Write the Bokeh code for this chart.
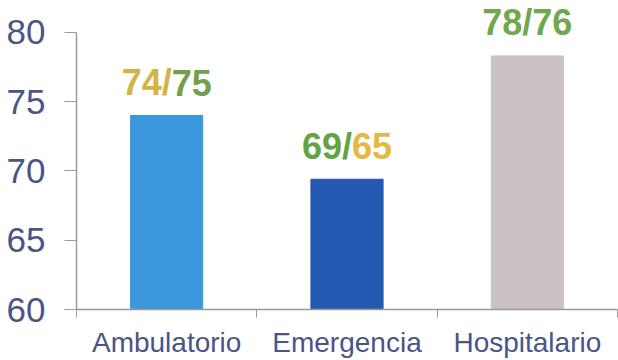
from bokeh.plotting import figure
from bokeh.models import ColumnDataSource, Range1d, FixedTicker, Label
from bokeh.embed import file_html
from bokeh.resources import INLINE

# ---- data ----
categorias = ["Ambulatorio", "Emergencia", "Hospitalario"]
valores = [74.0, 69.4, 78.3]
colores_barra = ["#3b98dc", "#2558b0", "#c9c1c6"]
etiqueta_a = ["74/", "69/", "78/76"]
etiqueta_b = ["75", "65", ""]
color_a = ["#d2b446", "#63a345", "#6fa84e"]
color_b = ["#72a050", "#e2b943", "#6fa84e"]
y_ticks = [60, 65, 70, 75, 80]

xs = [i + 0.5 for i in range(len(categorias))]
src = ColumnDataSource(dict(x=xs, top=valores, color=colores_barra))

p = figure(width=618, height=360, output_backend="svg", toolbar_location=None,
           x_range=Range1d(0, len(categorias)), y_range=Range1d(60, 82.3),
           min_border_left=76, min_border_right=1, min_border_top=0, min_border_bottom=40)
p.outline_line_color = None
p.background_fill_color = "white"
p.border_fill_color = "white"
p.grid.grid_line_color = None

p.vbar(x="x", top="top", bottom=60, width=0.4, color="color", source=src)

TXT = "#4b5585"
FONT = "Liberation Sans"

# y axis
ya = p.yaxis[0]
ya.ticker = FixedTicker(ticks=y_ticks)
ya.bounds = (min(y_ticks), max(y_ticks))
ya.major_label_text_font = FONT
ya.major_label_text_font_size = "35px"
ya.major_label_text_color = TXT
ya.axis_line_color = "#9a9a9a"
ya.axis_line_width = 1.5
ya.major_tick_line_color = "#9a9a9a"
ya.major_tick_in = 0
ya.major_tick_out = 12
ya.minor_tick_line_color = None
ya.major_label_standoff = 19

# x axis
xa = p.xaxis[0]
xa.ticker = FixedTicker(ticks=xs, minor_ticks=list(range(len(categorias) + 1)))
xa.major_label_overrides = {x: c for x, c in zip(xs, categorias)}
xa.major_label_text_font = FONT
xa.major_label_text_font_size = "28px"
xa.major_label_text_color = TXT
xa.axis_line_color = "#9a9a9a"
xa.axis_line_width = 1.5
xa.major_tick_line_color = None
xa.major_tick_in = 0
xa.major_tick_out = 0
xa.minor_tick_line_color = "#9a9a9a"
xa.minor_tick_in = 0
xa.minor_tick_out = 8
xa.major_label_standoff = 9

# value labels (two-coloured)
FS = 36
OFF = 33
for x, v, a, b, ca, cb in zip(xs, valores, etiqueta_a, etiqueta_b, color_a, color_b):
    if b:
        split = 0.139 * FS
        p.add_layout(Label(x=x, y=v, x_offset=split, y_offset=OFF, text=a,
                           text_align="right", text_baseline="alphabetic",
                           text_font=FONT, text_font_size=f"{FS}px",
                           text_font_style="bold", text_color=ca))
        p.add_layout(Label(x=x, y=v, x_offset=split, y_offset=OFF, text=b,
                           text_align="left", text_baseline="alphabetic",
                           text_font=FONT, text_font_size=f"{FS}px",
                           text_font_style="bold", text_color=cb))
    else:
        p.add_layout(Label(x=x, y=v, y_offset=OFF, text=a,
                           text_align="center", text_baseline="alphabetic",
                           text_font=FONT, text_font_size=f"{FS}px",
                           text_font_style="bold", text_color=ca))

open("out.html", "w").write(file_html(p, INLINE))
